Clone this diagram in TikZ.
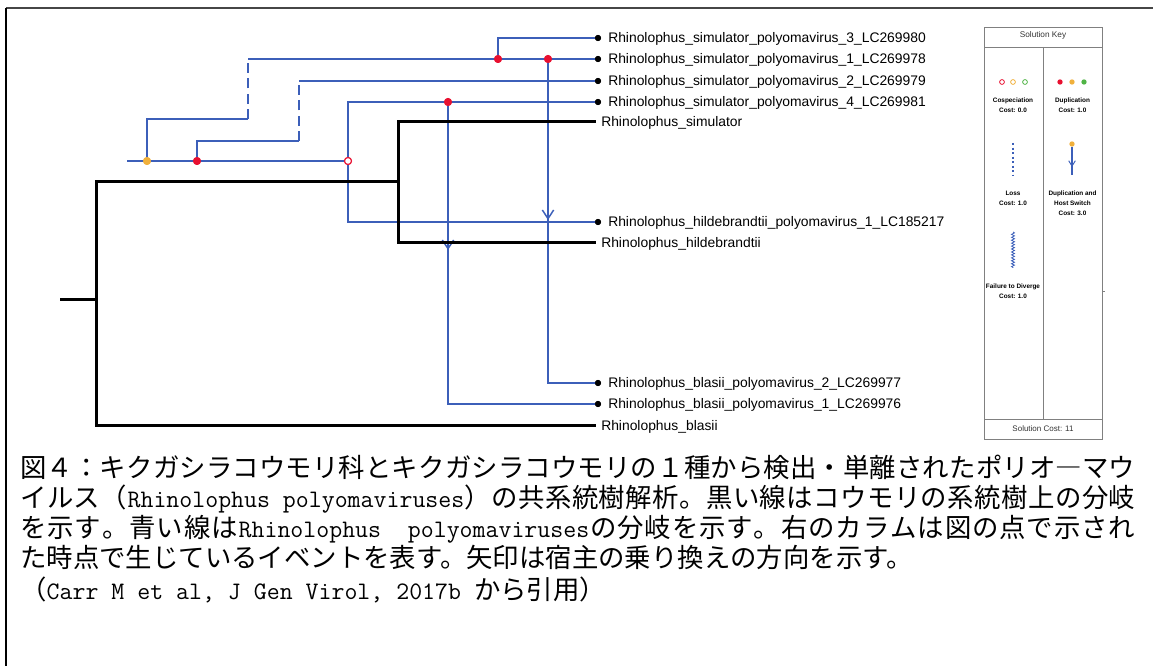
\documentclass[tikz,border=0pt]{standalone}
\usepackage{fontspec}
\usetikzlibrary{decorations.pathmorphing,decorations.markings,arrows.meta}
\newfontfamily\labelfont{Liberation Sans}
\newfontfamily\cjk{Noto Sans CJK JP}
\definecolor{vblue}{RGB}{60,95,185}
\definecolor{evred}{RGB}{232,16,48}
\definecolor{evorange}{RGB}{240,176,60}
\definecolor{evgreen}{RGB}{80,180,70}
\definecolor{keygray}{RGB}{128,128,128}
\definecolor{framegray}{RGB}{70,70,70}
% caption helpers
\newcommand\capfont{\cjk\fontsize{19.8pt}{22pt}\selectfont}
\newcommand\lat[1]{{\ttfamily\fontsize{18.86pt}{22pt}\selectfont #1}}
% justify a caption line: equal stretchable glue between all tokens
\makeatletter
\def\spr@ad#1{\ifx\@nil#1\else\hskip 0pt plus 1fil #1\expandafter\spr@ad\fi}
\def\spr@adfirst#1{#1\spr@ad}
\newcommand\capline[1]{\hbox to 836.25pt{\spr@adfirst#1\@nil}}
\makeatother
\begin{document}
\begin{tikzpicture}[x=0.75pt,y=-0.75pt,
  hostline/.style={line width=2.25pt, black},
  virline/.style={line width=1.3pt, vblue},
  lossline/.style={line width=2.2pt, vblue, dash pattern=on 7.5pt off 4pt},
  leafdot/.style={circle, fill=black, inner sep=0pt, minimum size=4.6pt},
  evdot/.style={circle, fill=#1, inner sep=0pt, minimum size=6pt},
  cospec/.style={circle, draw=evred, fill=white, line width=0.8pt, inner sep=0pt, minimum size=5.2pt},
  leaflabel/.style={anchor=base west, inner sep=0pt, font=\labelfont\fontsize{10.4pt}{12pt}\selectfont},
  switcharrow/.style={postaction={decorate,decoration={markings,
      mark=at position #1 with {\arrow{Straight Barb[length=6.5pt,width=8.5pt,line width=1.1pt]}}}}},
  keytext/.style={align=center, inner sep=0pt, font=\labelfont\bfseries\fontsize{4.8pt}{7.5pt}\selectfont},
  keyframe/.style={draw=keygray, line width=0.7pt},
  capnode/.style={anchor=base west, inner sep=0pt}
]
\useasboundingbox (0,0) rectangle (1153,666);

% page frame (top and left rules)
\draw[framegray, line width=1.6pt] (6,8) -- (1153,8);
\draw[black, line width=1.8pt] (6,8) -- (6,666);

% ---------- leaves of the virus tree ----------
\node[leafdot] (v3) at (598,38) {};
\node[leafdot] (v1) at (598,59) {};
\node[leafdot] (v2) at (598,81) {};
\node[leafdot] (v4) at (598,102) {};
\node[leafdot] (h1) at (598,222) {};
\node[leafdot] (b2) at (598,383) {};
\node[leafdot] (b1) at (598,404) {};

% ---------- host tree ----------
\coordinate (hroot) at (60,300);
\coordinate (hn1) at (96,300);
\coordinate (hn2) at (398,182);
\coordinate (Lsim) at (596,122);
\coordinate (Lhil) at (596,243);
\coordinate (Lbla) at (596,426);

% ---------- virus tree internal points ----------
\coordinate (r0) at (127,161);
\node[evdot=evorange] (o1) at (147,161) {};
\node[evdot=evred] (d1) at (197,161) {};
\node[cospec] (cs) at (348,161) {};
\node[evdot=evred] (d2) at (498,59) {};
\node[evdot=evred] (d3) at (548,59) {};
\node[evdot=evred] (d4) at (448,102) {};
\coordinate (c1) at (248,119);
\coordinate (c2) at (248,59);
\coordinate (c3) at (299,141);
\coordinate (c4) at (299,81);

% virus branches
\draw[virline] (r0) -- (o1.center) -- (d1.center) -- (cs.west);
\draw[virline] (o1.center) |- (c1);
\draw[lossline] (c1) -- (c2);
\draw[virline] (c2) -- (d2.center) -- (d3.center) -- (v1.center);
\draw[virline] (d2.center) |- (v3.center);
\draw[virline] (d1.center) |- (c3);
\draw[lossline] (c3) -- (c4);
\draw[virline] (c4) -- (v2.center);
\draw[virline] (cs.north) |- (v4.center);
\draw[virline] (cs.south) |- (h1.center);
\draw[virline, switcharrow=120.75pt] (d3.center) |- (b2.center);
\draw[virline, switcharrow=111pt] (d4.center) |- (b1.center);

% host branches
\draw[hostline] (hroot) -- (hn1);
\draw[hostline] (hn1) |- (hn2);
\draw[hostline] (hn1) |- (Lbla);
\draw[hostline] (hn2) |- (Lsim);
\draw[hostline] (hn2) |- (Lhil);

% redraw event markers on top
\node[evdot=evorange] at (o1) {};
\node[evdot=evred] at (d1) {};
\node[cospec] at (cs) {};
\node[evdot=evred] at (d2) {};
\node[evdot=evred] at (d3) {};
\node[evdot=evred] at (d4) {};
\foreach \n in {v3,v1,v2,v4,h1,b2,b1} \node[leafdot] at (\n) {};

% ---------- labels ----------
\node[leaflabel] (t3) at (608,43) {Rhinolophus\_simulator\_polyomavirus\_3\_LC269980};
\node[leaflabel] (t1) at (608,64) {Rhinolophus\_simulator\_polyomavirus\_1\_LC269978};
\node[leaflabel] (t2) at (608,86) {Rhinolophus\_simulator\_polyomavirus\_2\_LC269979};
\node[leaflabel] (t4) at (608,107) {Rhinolophus\_simulator\_polyomavirus\_4\_LC269981};
\node[leaflabel] (ts) at (601,127) {Rhinolophus\_simulator};
\node[leaflabel] (th1) at (608,227) {Rhinolophus\_hildebrandtii\_polyomavirus\_1\_LC185217};
\node[leaflabel] (th) at (601,248) {Rhinolophus\_hildebrandtii};
\node[leaflabel] (tb2) at (608,388) {Rhinolophus\_blasii\_polyomavirus\_2\_LC269977};
\node[leaflabel] (tb1) at (608,409) {Rhinolophus\_blasii\_polyomavirus\_1\_LC269976};
\node[leaflabel] (tb) at (601,431) {Rhinolophus\_blasii};

% ---------- solution key ----------
\draw[keyframe] (984,27) rectangle (1102,439);
\draw[keyframe] (984,47) -- (1102,47);
\draw[keyframe] (984,419) -- (1102,419);
\draw[keyframe] (1043,47) -- (1043,419);
\draw[keygray, line width=0.5pt] (1102,291) -- (1105,291);
\node[font=\labelfont\fontsize{6.2pt}{7pt}\selectfont, text=black!80] (keytitle) at (1043,35) {Solution Key};
\node[font=\labelfont\fontsize{6pt}{7pt}\selectfont, text=black!80] (keycost) at (1043,429) {Solution Cost: 11};

\foreach \xx/\cc in {1002/evred,1013/evorange,1025/evgreen}
  \node[circle, draw=\cc, fill=white, line width=0.6pt, inner sep=0pt, minimum size=3.6pt] at (\xx,82) {};
\foreach \xx/\cc in {1060/evred,1072/evorange,1084/evgreen}
  \node[circle, fill=\cc, inner sep=0pt, minimum size=4pt] at (\xx,82) {};

\node[keytext] (kcos) at (1013,105.5) {Cospeciation\\Cost: 0.0};
\node[keytext] (kdup) at (1072.5,105.5) {Duplication\\Cost: 1.0};

\coordinate (kl1) at (1013,143);
\coordinate (kl2) at (1013,175);
\draw[vblue, line width=0.8pt, dash pattern=on 1.6pt off 1.8pt] (kl1) -- (kl2);
\node[keytext] (kloss) at (1013,198) {Loss\\Cost: 1.0};

\node[circle, fill=evorange, inner sep=0pt, minimum size=4pt] (kh1) at (1072,144) {};
\coordinate (kh2) at (1072,175);
\draw[vblue, line width=0.8pt, postaction={decorate,decoration={markings,
   mark=at position 15pt with {\arrow{Straight Barb[length=4pt,width=5pt,line width=0.7pt]}}}}] (kh1) -- (kh2);
\node[keytext] (khs) at (1072.5,203) {Duplication and\\Host Switch\\Cost: 3.0};

\coordinate (kf1) at (1013,232);
\coordinate (kf2) at (1013,268);
\draw[vblue, line width=0.6pt, decorate, decoration={snake, amplitude=1.1pt, segment length=2.2pt}] (kf1) -- (kf2);
\node[keytext] (kfd) at (1013,291) {Failure to Diverge\\Cost: 1.0};

% ---------- caption ----------
\node[capnode] (cap1) at (20,477) {\capfont\capline{図４：キクガシラコウモリ科とキクガシラコウモリの１種から検出・単離されたポリオ―マウ}};
\node[capnode] (cap2) at (20,507) {\capfont\capline{イルス（{\lat{Rhinolophus~polyomaviruses}}）の共系統樹解析。黒い線はコウモリの系統樹上の分岐}};
\node[capnode] (cap3) at (20,537) {\capfont\capline{を示す。青い線は{\lat{Rhinolophus~~}}{\lat{polyomaviruses}}の分岐を示す。右のカラムは図の点で示され}};
\node[capnode] (cap4) at (20,567) {\capfont た時点で生じているイベントを表す。矢印は宿主の乗り換えの方向を示す。};
\node[capnode] (cap5) at (20,599) {\capfont （\lat{Carr M et al, J Gen Virol, 2017b }から引用）};
\end{tikzpicture}
\end{document}
